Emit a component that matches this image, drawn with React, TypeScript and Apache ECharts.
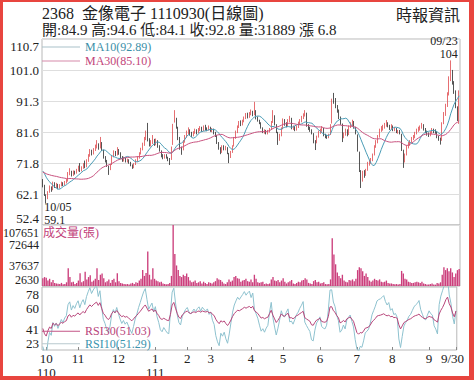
import React, { useEffect, useRef } from 'react';
import * as echarts from 'echarts';

// closes of the 29 sessions before the first shown day (needed for MA30 / RSI at the left edge)
const warmupCloses = [68.5, 69.2, 68.8, 67.9, 68.4, 69.0, 68.2, 67.6, 68.3, 69.1, 68.7, 67.8, 68.6, 69.4, 68.9, 68.1, 68.8, 69.5, 70.2, 71.0, 70.6, 71.4, 70.8, 70.1, 69.5, 70.3, 69.8, 68.6, 67.2];

const opens = [
  66.0, 64.5, 61.5, 61.0, 62.8, 64.0, 63.5, 65.2, 64.4, 65.0, 64.2, 64.8, 65.5, 65.0, 65.8, 66.3, 68.6, 69.0, 68.0, 69.0,
  68.8, 69.8, 70.5, 69.5, 70.6, 71.5, 70.8, 72.6, 74.2, 75.6, 74.8, 76.2, 77.0, 77.6, 76.6, 78.0, 75.8, 73.6, 72.4, 70.8, 70.0, 71.4,
  74.0, 75.0, 74.6, 75.8, 74.8, 73.6, 72.6, 73.2, 72.4, 72.8, 72.0, 71.0, 70.5, 71.4, 72.6, 73.4, 74.8, 76.2, 77.6, 79.5, 81.0, 79.0, 77.5,
  78.4, 78.8, 77.8, 78.6, 77.0, 75.6, 74.0, 73.6, 74.2, 73.5, 73.0, 73.0, 78.0, 86.0, 85.5, 82.8, 79.6, 76.4,
  76.0, 78.6, 80.2, 81.5, 82.0, 81.0, 80.6, 81.4, 82.0, 81.5, 82.2, 82.8, 82.0, 83.0, 82.6,
  82.4, 82.8, 82.0, 82.4, 81.2, 80.4, 78.0, 76.4, 75.4, 77.0, 76.2, 76.6, 74.8, 73.8, 75.2, 77.2, 79.6, 81.8, 83.2, 84.6, 84.0, 85.0, 86.0,
  87.0, 86.5, 87.3, 87.8, 87.2, 88.0, 86.0, 85.0, 84.4, 82.8, 81.6, 82.0, 81.2, 81.8, 82.4, 84.6, 86.5, 83.8, 81.4,
  79.2, 80.6, 82.6, 85.0, 84.0, 83.8, 85.2, 85.8, 82.8, 83.0, 82.4, 83.2, 84.4, 85.0, 86.0, 87.0, 87.4, 83.6, 82.8, 82.0, 81.0,
  78.4, 78.2, 80.2, 81.6, 82.0, 82.6, 80.6, 80.2, 80.0, 80.8, 84.5, 92.5, 91.6, 89.5, 88.2, 86.0, 84.0, 80.2, 80.8, 82.0, 80.8,
  83.2, 84.0, 84.6, 83.0, 80.6, 75.0, 69.0, 67.0, 68.8, 68.2, 69.8, 71.8, 72.2, 72.8, 74.6, 77.0, 78.6, 80.2, 82.2, 82.8, 83.2,
  83.8, 84.2, 83.4, 82.8, 83.4, 82.2, 82.6, 81.6, 81.8, 80.8, 75.6, 72.4, 74.6, 77.0, 77.6, 78.6, 79.6, 80.0, 81.2, 82.0, 82.6, 83.0, 83.8,
  82.4, 81.6, 80.8, 80.6, 81.4, 82.2, 81.8, 81.6, 80.0, 79.4, 79.0, 84.5, 87.2, 90.0, 93.5, 99.0, 100.5, 96.5, 94.0, 89.0, 84.9,
];

const closes = [
  64.8, 62.0, 60.6, 62.5, 64.0, 63.2, 65.5, 64.6, 65.2, 64.0, 64.8, 65.6, 65.0, 65.8, 66.2, 68.5, 69.2, 68.0, 69.0, 68.6,
  69.6, 70.3, 69.4, 70.5, 71.2, 70.6, 72.5, 74.0, 75.5, 74.8, 76.0, 77.0, 77.8, 76.5, 78.4, 76.0, 73.5, 72.5, 71.0, 70.0, 71.2, 73.8,
  75.2, 74.5, 76.0, 74.8, 73.6, 72.6, 73.2, 72.4, 72.8, 72.0, 71.2, 70.4, 71.4, 72.6, 73.5, 74.8, 76.0, 77.5, 79.2, 80.5, 79.0, 77.4, 78.2,
  79.0, 77.6, 78.8, 77.0, 75.8, 74.0, 73.5, 74.2, 73.6, 73.0, 72.8, 76.5, 84.0, 86.5, 83.0, 79.5, 76.5, 75.5,
  78.5, 80.0, 81.4, 82.2, 81.0, 80.4, 81.2, 82.0, 81.4, 82.3, 82.8, 82.0, 83.0, 82.6, 82.4,
  82.8, 82.0, 82.4, 81.2, 80.5, 78.2, 76.5, 75.2, 77.0, 76.2, 76.8, 75.0, 73.6, 75.0, 77.0, 79.5, 81.6, 83.0, 84.4, 84.0, 84.9, 85.8, 86.9,
  86.4, 87.2, 87.8, 87.0, 88.4, 86.0, 85.2, 84.4, 83.0, 81.6, 82.0, 81.2, 81.8, 82.2, 84.5, 86.9, 84.0, 81.6, 79.0,
  80.5, 82.5, 85.3, 84.0, 83.7, 85.0, 86.0, 82.8, 83.0, 82.2, 83.2, 84.4, 85.0, 86.0, 86.8, 87.8, 83.7, 82.8, 82.0, 81.2, 78.5,
  78.1, 80.0, 81.5, 82.0, 82.8, 80.6, 80.2, 80.0, 80.6, 83.7, 92.0, 92.2, 89.5, 88.4, 86.0, 84.4, 80.0, 80.6, 82.0, 80.6, 83.1,
  84.0, 84.7, 83.0, 81.2, 75.9, 69.6, 67.4, 68.7, 68.0, 69.6, 71.8, 72.2, 72.8, 74.4, 76.9, 78.4, 80.0, 82.2, 82.8, 83.1, 83.7,
  84.4, 83.4, 82.8, 83.5, 82.2, 82.6, 81.6, 81.8, 81.2, 76.0, 72.2, 74.4, 76.9, 77.8, 78.5, 79.5, 80.0, 81.0, 82.0, 82.6, 83.0, 83.8, 82.4,
  81.6, 80.8, 80.6, 81.4, 82.2, 81.8, 81.6, 80.0, 79.4, 78.5, 84.0, 87.0, 89.5, 93.0, 98.0, 101.5, 97.0, 94.5, 89.6, 86.0, 92.8,
];

const lows = [
  64.2, 61.5, 59.1, 60.5, 62.5, 62.8, 63.3, 64.0, 64.0, 63.6, 63.8, 64.5, 64.6, 64.8, 65.4, 66.0, 68.0, 67.6, 67.8, 68.2,
  68.5, 69.2, 69.0, 69.2, 70.0, 70.2, 70.5, 72.2, 73.8, 74.2, 74.5, 75.6, 76.4, 76.0, 76.4, 75.6, 73.2, 72.0, 70.6, 68.1, 69.6, 71.2,
  73.6, 74.0, 74.2, 74.4, 73.2, 72.2, 72.3, 72.0, 72.0, 71.6, 70.8, 70.0, 70.2, 71.2, 72.2, 73.2, 74.5, 75.8, 77.2, 79.0, 78.6, 77.0, 77.0,
  77.8, 77.2, 77.4, 76.6, 75.4, 73.6, 73.0, 73.2, 73.2, 72.4, 71.2, 72.8, 77.5, 84.5, 82.6, 79.0, 76.0, 74.4,
  75.8, 78.2, 79.8, 80.8, 80.5, 80.0, 80.2, 81.0, 80.8, 81.2, 81.8, 81.6, 81.8, 82.0, 81.8,
  82.0, 81.6, 81.5, 80.8, 80.0, 77.8, 76.0, 74.6, 75.0, 75.8, 75.8, 74.6, 71.8, 73.4, 75.0, 77.0, 79.4, 81.2, 82.8, 83.4, 83.6, 84.6, 85.6,
  85.8, 86.0, 86.8, 86.5, 86.8, 85.5, 84.8, 84.0, 82.6, 81.2, 81.0, 80.8, 80.8, 81.4, 82.2, 84.4, 83.6, 81.2, 77.5,
  78.8, 80.2, 82.4, 83.5, 83.0, 83.4, 84.6, 82.4, 82.2, 81.8, 82.0, 82.8, 84.0, 84.6, 85.6, 86.4, 83.2, 82.2, 81.6, 80.8, 78.0,
  75.9, 78.0, 79.8, 81.0, 81.6, 80.2, 79.6, 79.4, 79.6, 80.6, 84.2, 90.4, 89.0, 87.6, 85.6, 83.8, 78.4, 79.6, 80.4, 80.2, 80.6,
  82.8, 83.4, 82.6, 80.8, 75.4, 69.0, 64.0, 66.0, 67.2, 67.8, 69.4, 71.0, 71.6, 72.4, 74.2, 76.6, 78.0, 79.8, 81.6, 82.0, 82.6,
  83.2, 83.0, 82.2, 82.4, 81.8, 81.8, 81.2, 81.0, 80.8, 75.6, 70.3, 72.0, 74.2, 76.4, 77.2, 78.2, 79.0, 79.6, 80.8, 81.6, 82.0, 82.6, 82.0,
  81.2, 80.4, 80.0, 80.2, 81.0, 81.2, 81.0, 79.6, 78.8, 77.6, 78.8, 84.0, 86.6, 89.4, 93.0, 97.5, 96.4, 93.5, 89.0, 85.0, 84.1,
];

const highs = [
  66.8, 65.0, 62.0, 63.0, 64.8, 64.5, 66.0, 65.8, 65.6, 65.3, 65.2, 66.0, 65.8, 66.2, 66.8, 69.0, 70.2, 69.4, 69.5, 69.4,
  70.0, 71.0, 71.8, 70.8, 71.8, 72.6, 73.0, 74.6, 76.2, 76.0, 76.5, 77.6, 79.0, 78.0, 80.0, 78.4, 76.0, 74.0, 72.8, 71.0, 71.5, 74.2,
  75.8, 75.6, 76.8, 76.2, 75.2, 74.0, 73.8, 73.5, 73.2, 73.0, 72.2, 71.4, 71.8, 73.0, 74.0, 75.2, 76.6, 78.2, 80.0, 82.0, 84.4, 79.6, 79.0,
  80.6, 79.4, 79.5, 79.0, 77.4, 75.8, 74.6, 74.6, 74.6, 73.8, 73.4, 77.0, 84.1, 88.4, 86.0, 83.2, 80.0, 77.0,
  79.0, 80.6, 82.0, 83.0, 82.4, 81.6, 81.8, 82.6, 82.4, 82.8, 83.4, 83.2, 83.6, 83.8, 83.0,
  83.6, 83.2, 82.8, 82.6, 81.6, 80.6, 78.4, 76.8, 77.4, 77.4, 77.2, 76.8, 75.0, 75.6, 77.4, 80.0, 82.0, 83.6, 85.0, 85.2, 85.4, 86.4, 87.5,
  87.6, 87.8, 88.6, 88.2, 91.0, 88.4, 86.4, 85.4, 84.6, 83.0, 82.4, 82.2, 82.2, 82.8, 85.0, 88.4, 86.8, 84.0, 81.6,
  81.0, 83.0, 85.8, 85.6, 84.6, 85.6, 86.6, 86.0, 83.6, 83.4, 83.6, 84.8, 85.6, 86.6, 87.4, 88.4, 87.6, 84.0, 83.2, 82.4, 81.2,
  79.0, 80.4, 82.0, 82.6, 83.4, 82.8, 81.0, 80.6, 81.0, 84.0, 92.0, 93.8, 92.2, 90.0, 88.6, 86.4, 84.2, 81.4, 82.6, 82.4, 83.6,
  84.6, 85.4, 85.0, 83.2, 80.8, 75.4, 69.6, 69.4, 69.6, 70.0, 72.2, 72.8, 73.4, 74.8, 77.4, 79.0, 80.6, 82.6, 83.4, 83.8, 84.4,
  85.3, 84.6, 83.8, 84.0, 83.6, 83.0, 82.8, 82.2, 82.2, 81.0, 76.0, 74.8, 77.4, 78.4, 79.0, 80.0, 80.6, 81.6, 82.6, 83.2, 83.6, 84.4, 84.0,
  82.8, 82.0, 81.4, 81.8, 82.8, 82.6, 82.4, 81.8, 80.4, 79.8, 84.6, 87.8, 90.4, 94.0, 99.0, 104.0, 101.0, 97.5, 94.6, 89.6, 94.6,
];

const volumes = [
  16000, 18000, 17000, 12000, 15000, 9000, 13000, 8000, 7000, 6500, 6000, 8000, 5500, 6000, 9000, 33000, 18000, 9000, 10000, 6000,
  8000, 12000, 24600, 9000, 11000, 27000, 14000, 18000, 21000, 10000, 12000, 15000, 33000, 13000, 22000, 24000, 16000, 9000, 11000, 14000, 8000, 13000,
  15000, 9000, 24600, 11000, 8000, 7000, 6000, 5500, 6000, 5000, 7000, 8000, 6000, 9000, 8000, 12000, 15000, 30000, 20000, 25000, 62000, 22000, 14000,
  33000, 15000, 12000, 11000, 9000, 10000, 7000, 6000, 5500, 6000, 8000, 20000, 107651, 57700, 38000, 30000, 20000, 18000,
  22000, 20000, 24000, 18000, 12000, 9000, 10000, 12000, 8000, 9000, 11000, 7000, 10000, 8000, 6000,
  9000, 8000, 7000, 9000, 11000, 16000, 14000, 13000, 10000, 7000, 6000, 9000, 14000, 10000, 12000, 18000, 20000, 16000, 15000, 10000, 12000, 13000, 15000,
  11000, 10000, 14000, 9000, 22000, 15000, 9000, 8000, 9000, 10000, 6000, 7000, 6000, 7000, 14000, 18000, 12000, 11000, 13000,
  9000, 12000, 16000, 10000, 7000, 9000, 11000, 13000, 7000, 6000, 8000, 10000, 9000, 12000, 13000, 16000, 14000, 8000, 7000, 6000, 11000,
  13000, 9000, 10000, 7000, 8000, 9000, 6000, 5500, 6000, 14000, 85000, 56800, 40000, 26000, 20000, 16000, 22000, 12000, 10000, 9000, 13000,
  12000, 14000, 11000, 15000, 30000, 35000, 33000, 28000, 20000, 24000, 18000, 12000, 10000, 12000, 15000, 13000, 12000, 14000, 10000, 9000, 10000,
  12000, 8000, 7000, 7000, 6000, 5500, 6000, 5000, 6000, 28600, 24000, 15000, 14000, 10000, 9000, 8000, 8000, 9000, 10000, 9000, 8000, 10000, 7000,
  6000, 5000, 5000, 6000, 7000, 5000, 5000, 8000, 7000, 9000, 22000, 35000, 30000, 33000, 28000, 33000, 26000, 18000, 24000, 30000, 31889,
];

// x-axis tick labels (category index where each label sits)
const monthLabelIdx = [2, 21, 45, 67, 86, 100, 124, 143, 165, 187, 208, 230, 246];
const monthLabels = ['10\n110', '11', '12', '1\n111', '2', '3', '4', '5', '6', '7', '8', '9', '9/30'];

const priceTicks = ['52.4', '62.1', '71.8', '81.6', '91.3', '101.0', '110.7'];
const volTicks = ['2630', '37637', '72644', '107651'];
const rsiTicks = ['23', '41', '60', '78'];

const legendValues: Record<string, string> = { MA10: '92.89', MA30: '85.10', RSI10: '51.29', RSI30: '51.03' };
const highDate = '09/23';
const lowDate = '10/05';
const titleText = '2368  金像電子 1110930(日線圖)';
const sourceText = '時報資訊';
const volTitle = '成交量(張)';

const FONT = "'Liberation Serif', 'Noto Sans CJK TC', serif";

function movingAvg(arr: number[], n: number): (number | string)[] {
  const out: (number | string)[] = [];
  for (let i = 0; i < arr.length; i++) {
    if (i < n - 1) { out.push('-'); continue; }
    let s = 0;
    for (let k = i - n + 1; k <= i; k++) s += arr[k];
    out.push(+(s / n).toFixed(3));
  }
  return out;
}

function rsiCalc(arr: number[], n: number): (number | string)[] {
  const out: (number | string)[] = ['-'];
  let ag = 0, al = 0;
  for (let i = 1; i < arr.length; i++) {
    const d = arr[i] - arr[i - 1];
    const g = Math.max(d, 0), l = Math.max(-d, 0);
    if (i <= n) { ag += (g - ag) / i; al += (l - al) / i; }
    else { ag = (ag * (n - 1) + g) / n; al = (al * (n - 1) + l) / n; }
    out.push(ag + al === 0 ? 50 : +(100 * ag / (ag + al)).toFixed(3));
  }
  return out;
}

export default function App() {
  const ref = useRef<HTMLDivElement>(null);
  useEffect(() => {
    document.body.style.margin = '0';
    if (!ref.current) return;
    const chart = echarts.init(ref.current, undefined, { renderer: 'svg' });
    const N = closes.length;
    const cats = closes.map((_, i) => String(i));
    const full = warmupCloses.concat(closes);
    const w = warmupCloses.length;
    const ma10 = movingAvg(full, 10).slice(w);
    const ma30 = movingAvg(full, 30).slice(w);
    const rsi10 = rsiCalc(full, 10).slice(w);
    const rsi30 = rsiCalc(full, 30).slice(w);

    let maxIdx = 0, minIdx = 0;
    highs.forEach((h, i) => { if (h > highs[maxIdx]) maxIdx = i; });
    lows.forEach((l, i) => { if (l < lows[minIdx]) minIdx = i; });

    const last = N - 1;
    const chg = closes[last] - closes[last - 1];
    const infoText = `開:${opens[last].toFixed(1)} 高:${highs[last].toFixed(1)} 低:${lows[last].toFixed(1)} 收:${closes[last].toFixed(1)} 量:${volumes[last]} 漲 ${chg.toFixed(1)}`;

    const pMin = parseFloat(priceTicks[0]);
    const pMax = parseFloat(priceTicks[priceTicks.length - 1]);
    const pInt = (pMax - pMin) / (priceTicks.length - 1);
    const vMin = parseFloat(volTicks[0]);
    const vMax = parseFloat(volTicks[volTicks.length - 1]);
    const vInt = (vMax - vMin) / (volTicks.length - 1);
    const rMin = parseFloat(rsiTicks[0]);
    const rMax = parseFloat(rsiTicks[rsiTicks.length - 1]);
    const rInt = (rMax - rMin) / (rsiTicks.length - 1);

    const isLabel = (idx: number) => monthLabelIdx.indexOf(idx) >= 0;
    const gridBase = { left: 42, right: 14, show: true, borderColor: '#b8b8b8', borderWidth: 1, backgroundColor: 'transparent' };
    const hiddenX = (gi: number) => ({
      type: 'category', gridIndex: gi, data: cats, boundaryGap: true,
      axisLine: { show: false }, axisTick: { show: false }, axisLabel: { show: false }, splitLine: { show: false },
    });
    const yBase = (gi: number, min: number, max: number, interval: number, ticks: string[], fs: number, padTop: number) => {
      const rs = { fontSize: fs, fontFamily: FONT, color: '#222' };
      return {
        type: 'value', gridIndex: gi, min, max, interval,
        axisLine: { show: false }, axisTick: { show: false },
        axisLabel: {
          fontSize: fs, fontFamily: FONT, color: '#222', margin: 3,
          showMinLabel: true, showMaxLabel: true,
          verticalAlignMinLabel: 'bottom', verticalAlignMaxLabel: 'top',
          rich: { hi: { ...rs, padding: [padTop, 0, 0, 0] } },
          formatter: (v: number) => {
            const k = Math.round((v - min) / interval);
            const t = ticks[k] ?? '';
            if (k === ticks.length - 1 && padTop > 0) return `{hi|${t}}`;
            return t;
          },
        },
      };
    };

    const option: any = {
      animation: false,
      backgroundColor: '#ffffff',
      grid: [
        { ...gridBase, top: 39, height: 186 },
        { ...gridBase, top: 225, height: 61 },
        { ...gridBase, top: 287, height: 63 },
      ],
      xAxis: [
        hiddenX(0),
        hiddenX(1),
        {
          type: 'category', gridIndex: 2, data: cats, boundaryGap: true,
          axisLine: { show: false },
          axisTick: { show: true, inside: true, length: 3, interval: (i: number) => isLabel(i), alignWithLabel: true, lineStyle: { color: '#888' } },
          axisLabel: {
            interval: (i: number) => isLabel(i),
            formatter: (_v: string, i: number) => {
              const k = monthLabelIdx.indexOf(i);
              if (k < 0) return '';
              if (i === last) return `{l|${monthLabels[k]}}`;
              return monthLabels[k];
            },
            rich: { l: { padding: [0, 7, 0, 0], fontSize: 13, fontFamily: FONT, color: '#222' } },
            fontSize: 13, fontFamily: FONT, color: '#222', margin: 1, lineHeight: 14,
          },
          splitLine: { show: false },
        },
      ],
      yAxis: [
        { ...yBase(0, pMin, pMax, pInt, priceTicks, 13, 1), splitLine: { show: true, lineStyle: { color: '#dedede', width: 1 } } },
        { ...yBase(1, vMin, vMax, vInt, volTicks, 12, 2), splitLine: { show: false } },
        { ...yBase(2, rMin, rMax, rInt, rsiTicks, 13, 1), splitLine: { show: false } },
      ],
      legend: [
        {
          data: [
            { name: 'MA10', textStyle: { color: '#3b8fa8' }, itemStyle: { color: '#a9c2ca' } },
            { name: 'MA30', textStyle: { color: '#c2457a' }, itemStyle: { color: '#d58aaa' } },
          ],
          left: 42, top: 40.5, orient: 'vertical', itemWidth: 38, itemHeight: 1, itemGap: 1, icon: 'rect',
          selectedMode: false, padding: 0,
          formatter: (n: string) => `${n}(${legendValues[n]})`,
          textStyle: { fontSize: 12, fontFamily: FONT, lineHeight: 13 },
        },
        {
          data: [
            { name: 'RSI30', textStyle: { color: '#b8437a' }, itemStyle: { color: '#c35586' } },
            { name: 'RSI10', textStyle: { color: '#3b93ad' }, itemStyle: { color: '#b9c9ce' } },
          ],
          left: 42, top: 325, orient: 'vertical', itemWidth: 38, itemHeight: 1, itemGap: 0, icon: 'rect',
          selectedMode: false, padding: 0,
          formatter: (n: string) => `${n}(${legendValues[n]})`,
          textStyle: { fontSize: 12, fontFamily: FONT, lineHeight: 12.5 },
        },
      ],
      graphic: [
        { type: 'text', x: 42, y: 13, style: { text: titleText, font: `16px ${FONT}`, fill: '#222', verticalAlign: 'middle' } },
        { type: 'text', x: 460, y: 15, style: { text: sourceText, font: `16px ${FONT}`, fill: '#222', align: 'right', verticalAlign: 'middle' } },
        { type: 'text', x: 42, y: 30, style: { text: infoText, font: `15px ${FONT}`, fill: '#222', verticalAlign: 'middle' } },
        { type: 'text', x: 43, y: 233, style: { text: volTitle, font: `12px ${FONT}`, fill: '#c2407a', verticalAlign: 'middle' } },
      ],
      series: [
        {
          name: 'K', type: 'candlestick', xAxisIndex: 0, yAxisIndex: 0,
          data: opens.map((o, i) => [o, closes[i], lows[i], highs[i]]),
          barWidth: 1,
          itemStyle: { color: '#e04a4e', color0: '#2b2b2b', borderColor: '#e04a4e', borderColor0: '#2b2b2b', borderWidth: 0.8 },
          markPoint: {
            symbol: 'circle', symbolSize: 1, itemStyle: { color: 'rgba(0,0,0,0)' },
            label: { show: true, color: '#222', fontSize: 12, fontFamily: FONT, lineHeight: 12.5, distance: 0 },
            data: [
              { coord: [maxIdx, highs[maxIdx]], label: { formatter: `${highDate}\n${highs[maxIdx]}`, position: 'top', align: 'right', offset: [7, 0] } },
              { coord: [minIdx, lows[minIdx]], label: { formatter: `${lowDate}\n${lows[minIdx]}`, position: 'bottom', align: 'left', offset: [-2, -3] } },
            ],
          },
        },
        { name: 'MA10', type: 'line', xAxisIndex: 0, yAxisIndex: 0, data: ma10, symbol: 'none', lineStyle: { width: 1, color: '#4a9cb6' }, itemStyle: { color: '#4a9cb6' }, z: 3 },
        { name: 'MA30', type: 'line', xAxisIndex: 0, yAxisIndex: 0, data: ma30, symbol: 'none', lineStyle: { width: 1, color: '#c9527f' }, itemStyle: { color: '#c9527f' }, z: 3 },
        { name: 'VOL', type: 'bar', xAxisIndex: 1, yAxisIndex: 1, data: volumes, barWidth: '80%', itemStyle: { color: '#cc3f7c' } },
        { name: 'RSI10', type: 'line', xAxisIndex: 2, yAxisIndex: 2, data: rsi10, symbol: 'none', lineStyle: { width: 1, color: '#8ec2cf' }, itemStyle: { color: '#8ec2cf' } },
        { name: 'RSI30', type: 'line', xAxisIndex: 2, yAxisIndex: 2, data: rsi30, symbol: 'none', lineStyle: { width: 1, color: '#b8457a' }, itemStyle: { color: '#b8457a' } },
      ],
    };
    chart.setOption(option);
    return () => chart.dispose();
  }, []);

  return (
    <div style={{ position: 'relative', width: 474, height: 380, background: '#fff' }}>
      <div ref={ref} style={{ position: 'absolute', left: 0, top: 0, width: 474, height: 380 }} />
      <div
        style={{
          position: 'absolute', left: 0, top: 0, width: 474, height: 380, boxSizing: 'border-box',
          borderStyle: 'solid', borderColor: '#e8453f', borderWidth: '2px 5px 4px 3px', pointerEvents: 'none',
        }}
      />
    </div>
  );
}
